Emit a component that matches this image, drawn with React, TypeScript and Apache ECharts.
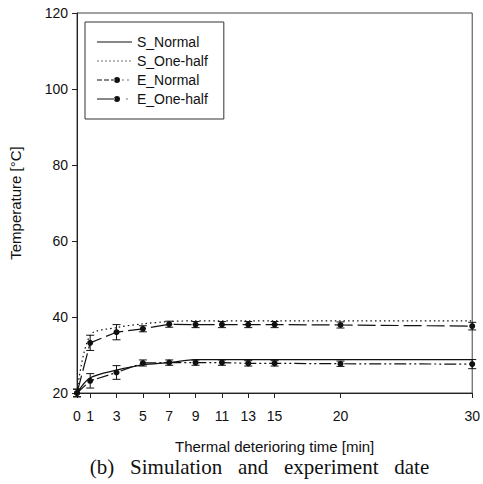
import React, { useEffect, useRef } from "react";
import * as echarts from "echarts";

const times = [0, 1, 3, 5, 7, 9, 11, 13, 15, 20, 30];
const tickValues = [0, 1, 3, 5, 7, 9, 11, 13, 15, 20, 30];
const sNormal = [20, 24, 26, 27.4, 28, 28.8, 28.8, 28.8, 28.8, 28.8, 28.8];
const sOneHalf = [20, 35.2, 37.2, 38.2, 38.8, 39, 39, 39, 39, 39, 39];
const eNormal = [20, 23.2, 25.4, 27.9, 28, 28, 28, 27.8, 27.8, 27.7, 27.6];
const eNormalErr = [1, 1.9, 1.8, 0.8, 0.7, 0.7, 0.7, 0.7, 0.7, 0.7, 1.2];
const eOneHalf = [20, 33.2, 36, 36.9, 38.1, 38, 38, 38, 38, 37.9, 37.6];
const eOneHalfErr = [1, 2, 2, 0.8, 0.8, 0.8, 0.8, 0.8, 0.8, 0.8, 1];
const caption = "(b)   Simulation   and   experiment   date";

const categories = Array.from({ length: 31 }, (_, i) => String(i));

function pairs(vals: number[]) {
  return times.map((t, i) => [t, vals[i]]);
}

function errData(vals: number[], errs: number[]) {
  return times.map((t, i) => [t, vals[i] - errs[i], vals[i] + errs[i]]);
}

const errRender = (params: any, api: any) => {
  const x = api.value(0);
  const lo = api.coord([x, api.value(1)]);
  const hi = api.coord([x, api.value(2)]);
  const cw = 4;
  const st = { stroke: "#111", lineWidth: 1 };
  return {
    type: "group",
    children: [
      { type: "line", shape: { x1: lo[0], y1: lo[1], x2: hi[0], y2: hi[1] }, style: st },
      { type: "line", shape: { x1: lo[0] - cw, y1: lo[1], x2: lo[0] + cw, y2: lo[1] }, style: st },
      { type: "line", shape: { x1: hi[0] - cw, y1: hi[1], x2: hi[0] + cw, y2: hi[1] }, style: st },
    ],
  };
};

// legend icon helpers (icon box 35 x 7)
const BOX = "M0,0h0.01v0.01h-0.01z M34.99,6.99h0.01v0.01h-0.01z ";
const seg = (x0: number, x1: number) => `M${x0},3h${x1 - x0}v1.1h${x0 - x1}z `;
const dot = (cx: number) => `M${cx - 0.6},3h1.2v1.1h-1.2z `;
const circ = (cx: number) => `M${cx - 3},3.5a3,3 0 1,0 6,0a3,3 0 1,0 -6,0z `;
function iconSolid() {
  return "path://" + BOX + seg(0, 35);
}
function iconDotted() {
  let s = BOX;
  for (let x = 1; x < 35; x += 4) s += dot(x);
  return "path://" + s;
}
function iconENormal() {
  const s = BOX + seg(0, 5) + seg(7, 12) + seg(14, 18) + circ(20) + dot(26) + dot(31);
  return "path://" + s;
}
function iconEOneHalf() {
  const s = BOX + seg(0, 18) + circ(20) + dot(30);
  return "path://" + s;
}

export default function App() {
  const ref = useRef<HTMLDivElement>(null);
  useEffect(() => {
    if (!ref.current) return;
    const chart = echarts.init(ref.current, null, { renderer: "svg" });
    const font = "Liberation Sans, Arial, sans-serif";
    chart.setOption({
      animation: false,
      backgroundColor: "#fff",
      grid: {
        left: 74,
        right: 10,
        top: 13,
        bottom: 91,
        show: true,
        borderColor: "#444",
        borderWidth: 1,
        backgroundColor: "transparent",
      },
      legend: {
        orient: "vertical",
        left: 85,
        top: 22,
        padding: [12, 16, 12, 12],
        itemGap: 3,
        itemWidth: 35,
        itemHeight: 7,
        borderColor: "#333",
        borderWidth: 1,
        textStyle: { fontFamily: font, fontSize: 14, color: "#111", lineHeight: 16 },
        data: [
          { name: "S_Normal", icon: iconSolid(), itemStyle: { color: "#111" } },
          { name: "S_One-half", icon: iconDotted(), itemStyle: { color: "#111" } },
          { name: "E_Normal", icon: iconENormal(), itemStyle: { color: "#111" } },
          { name: "E_One-half", icon: iconEOneHalf(), itemStyle: { color: "#111" } },
        ],
      },
      xAxis: {
        type: "category",
        data: categories,
        boundaryGap: false,
        axisLine: { lineStyle: { color: "#222", width: 1 } },
        axisTick: {
          show: true,
          length: 5,
          interval: (idx: number) => tickValues.includes(idx),
          lineStyle: { color: "#222" },
        },
        axisLabel: {
          interval: (idx: number) => tickValues.includes(idx),
          fontFamily: font,
          fontSize: 14,
          color: "#111",
          margin: 16,
        },
        splitLine: { show: false },
        name: "Thermal deterioring time [min]",
        nameLocation: "middle",
        nameGap: 46,
        nameTextStyle: { fontFamily: font, fontSize: 15, color: "#111" },
      },
      yAxis: {
        type: "value",
        min: 20,
        max: 120,
        interval: 20,
        axisLine: { show: true, lineStyle: { color: "#222", width: 1 } },
        axisTick: { show: true, length: 5, lineStyle: { color: "#222" } },
        axisLabel: { fontFamily: font, fontSize: 14, color: "#111", margin: 9 },
        splitLine: { show: false },
        name: "Temperature [°C]",
        nameLocation: "middle",
        nameGap: 54,
        nameTextStyle: { fontFamily: font, fontSize: 15, color: "#111" },
      },
      graphic: [
        {
          type: "text",
          x: 259.5,
          y: 467,
          style: {
            text: caption,
            font: "21px 'Liberation Serif', 'Times New Roman', serif",
            fill: "#111",
            textAlign: "center",
            textVerticalAlign: "middle",
          },
        },
      ],
      series: [
        {
          name: "S_Normal",
          type: "line",
          data: pairs(sNormal),
          showSymbol: false,
          symbol: "none",
          smooth: 0.3,
          lineStyle: { color: "#111", width: 1.3, type: "solid" },
          itemStyle: { color: "#111" },
          z: 3,
        },
        {
          name: "S_One-half",
          type: "line",
          data: pairs(sOneHalf),
          showSymbol: false,
          symbol: "none",
          smooth: 0.3,
          lineStyle: { color: "#111", width: 1.2, type: [1.5, 3] },
          itemStyle: { color: "#111" },
          z: 3,
        },
        {
          name: "E_Normal",
          type: "line",
          data: pairs(eNormal),
          symbol: "circle",
          symbolSize: 6,
          lineStyle: { color: "#111", width: 1.2, type: [12, 3, 2, 3, 2, 3] },
          itemStyle: { color: "#111" },
          z: 4,
        },
        {
          name: "E_One-half",
          type: "line",
          data: pairs(eOneHalf),
          symbol: "circle",
          symbolSize: 6,
          lineStyle: { color: "#111", width: 1.2, type: [18, 5] },
          itemStyle: { color: "#111" },
          z: 4,
        },
        {
          name: "E_Normal_err",
          type: "custom",
          data: errData(eNormal, eNormalErr),
          renderItem: errRender,
          encode: { x: 0, y: [1, 2] },
          z: 5,
        },
        {
          name: "E_One-half_err",
          type: "custom",
          data: errData(eOneHalf, eOneHalfErr),
          renderItem: errRender,
          encode: { x: 0, y: [1, 2] },
          z: 5,
        },
      ],
    });
    return () => chart.dispose();
  }, []);
  return (
    <div
      ref={ref}
      style={{ position: "fixed", left: 0, top: 0, width: 483, height: 484 }}
    />
  );
}
